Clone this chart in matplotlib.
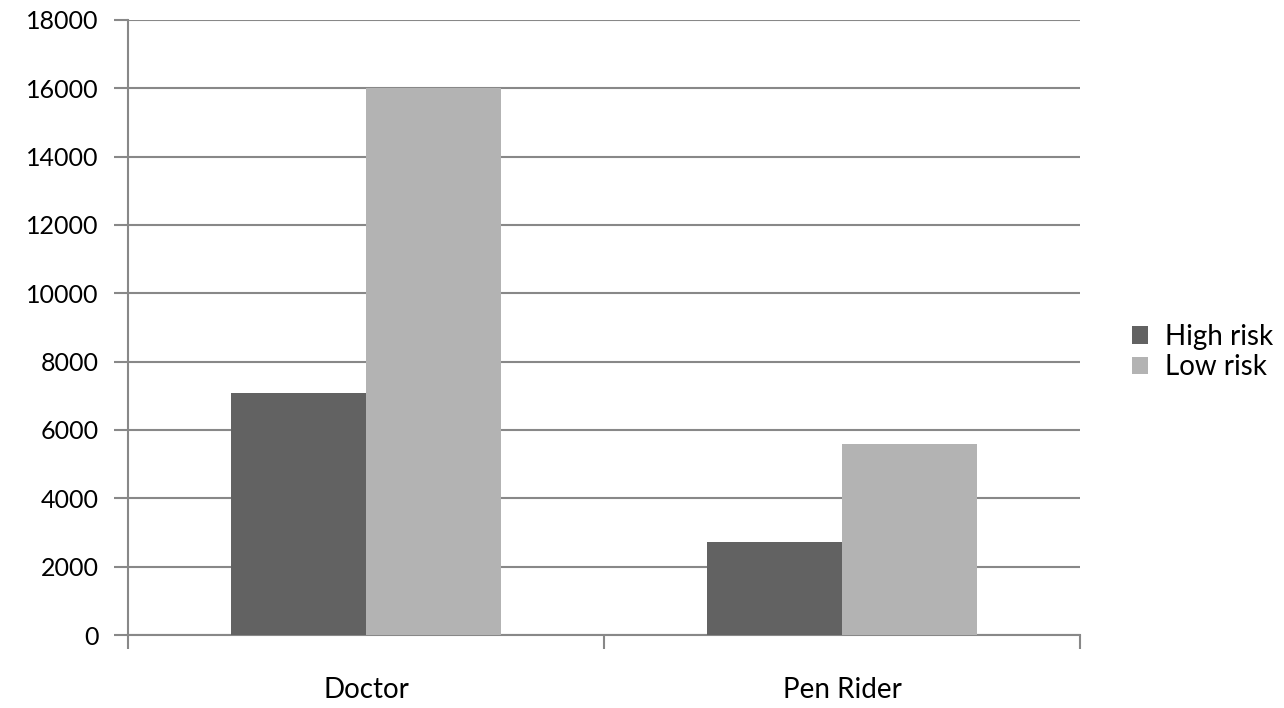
import matplotlib
matplotlib.use('Agg')
import matplotlib.pyplot as plt
import numpy as np

# data
categories = ['Doctor', 'Pen Rider']
series_names = ['High risk', 'Low risk']
high_risk = [7080, 2730]
low_risk = [16000, 5580]
colors = ['#626262', '#b3b3b3']
y_ticks = list(range(0, 18001, 2000))

plt.rcParams['font.family'] = ['Lato', 'DejaVu Sans']

fig = plt.figure(figsize=(12.84, 7.08), dpi=100)
ax = fig.add_axes([0.0997, 0.1031, 0.7414, 0.8687])

x = np.arange(len(categories))
width = 0.284
ax.bar(x - width / 2, high_risk, width, color=colors[0], label=series_names[0], zorder=3)
ax.bar(x + width / 2, low_risk, width, color=colors[1], label=series_names[1], zorder=3)

ax.set_xlim(-0.5, len(categories) - 0.5)
ax.set_ylim(0, 18000)
ax.set_yticks(y_ticks)
ax.set_yticklabels([str(v) for v in y_ticks], fontsize=18)
ax.yaxis.grid(True, color='#888888', linewidth=1.5, zorder=0)

# category labels between boundary ticks
ax.set_xticks(x)
ax.set_xticklabels(categories, fontsize=20)
ax.tick_params(axis='x', length=0, pad=30)
ax.set_xticks(np.arange(-0.5, len(categories)), minor=True)
ax.tick_params(axis='x', which='minor', length=10, width=1.5, color='#888888')
ax.tick_params(axis='y', length=10, width=1.5, color='#888888', pad=11)

for side in ['top', 'right']:
    ax.spines[side].set_visible(False)
for side in ['left', 'bottom']:
    ax.spines[side].set_color('#888888')
    ax.spines[side].set_linewidth(1.5)

ax.legend(loc='center left', bbox_to_anchor=(1.028, 0.46), frameon=False,
          fontsize=20, handlelength=0.6, handleheight=0.6, handletextpad=0.6,
          labelspacing=0.15)

fig.savefig('out.png', dpi=100)
